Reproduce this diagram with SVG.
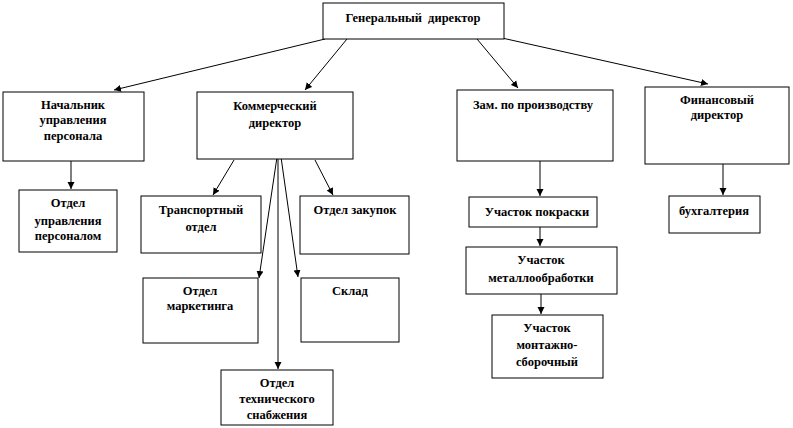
<svg xmlns="http://www.w3.org/2000/svg" width="793" height="428" viewBox="0 0 793 428">
<style>
.box{fill:#fff;stroke:#000;stroke-width:1}
.t{font-family:"Liberation Serif","Times New Roman",serif;font-weight:bold;font-size:12.5px;text-anchor:middle;fill:#000;white-space:pre}
.c{stroke:#000;stroke-width:1;fill:none;marker-end:url(#ah)}
</style>
<defs>
<marker id="ah" markerWidth="8" markerHeight="8" refX="7" refY="4" orient="auto" markerUnits="userSpaceOnUse">
<path d="M0,0.5 L7,4 L0,7.5 Z" fill="#000"/>
</marker>
</defs>
<rect width="793" height="428" fill="#fff"/>
<g id="connectors">
<line class="c" x1="325" y1="39" x2="114" y2="90"/>
<line class="c" x1="347" y1="39" x2="305" y2="90"/>
<line class="c" x1="477" y1="39" x2="518" y2="88"/>
<line class="c" x1="502" y1="38" x2="708" y2="84"/>
<line class="c" x1="71" y1="161" x2="71" y2="189"/>
<line class="c" x1="234" y1="160" x2="213" y2="195"/>
<line class="c" x1="315" y1="160" x2="333" y2="195"/>
<line class="c" x1="277" y1="157" x2="259" y2="278"/>
<line class="c" x1="281" y1="157" x2="298" y2="277"/>
<line class="c" x1="278" y1="157" x2="278" y2="369"/>
<line class="c" x1="540" y1="161" x2="540" y2="196"/>
<line class="c" x1="540" y1="227" x2="540" y2="246"/>
<line class="c" x1="541" y1="294" x2="541" y2="314"/>
<line class="c" x1="723" y1="164" x2="723" y2="195"/>
</g>
<g id="gen"><rect class="box" x="323" y="3" width="181" height="36"/><text class="t" x="413" y="22" xml:space="preserve">Генеральный  директор</text></g>
<g id="nach"><rect class="box" x="3" y="92" width="141" height="69"/><text class="t" x="73" y="109">Начальник</text><text class="t" x="73" y="124">управления</text><text class="t" x="73" y="140">персонала</text></g>
<g id="otd-upr"><rect class="box" x="19" y="190" width="98" height="62"/><text class="t" x="68" y="207">Отдел</text><text class="t" x="68" y="225">управления</text><text class="t" x="68" y="240">персоналом</text></g>
<g id="kom"><rect class="box" x="197" y="92" width="156" height="67"/><text class="t" x="275" y="110">Коммерческий</text><text class="t" x="275" y="127">директор</text></g>
<g id="trans"><rect class="box" x="141" y="196" width="120" height="57"/><text class="t" x="201" y="214">Транспортный</text><text class="t" x="201" y="231">отдел</text></g>
<g id="zak"><rect class="box" x="300" y="196" width="109" height="58"/><text class="t" x="355" y="214">Отдел закупок</text></g>
<g id="mark"><rect class="box" x="143" y="278" width="115" height="65"/><text class="t" x="200" y="295">Отдел</text><text class="t" x="200" y="310">маркетинга</text></g>
<g id="sklad"><rect class="box" x="301" y="278" width="98" height="64"/><text class="t" x="350" y="295">Склад</text></g>
<g id="tech"><rect class="box" x="221" y="370" width="112" height="55"/><text class="t" x="277" y="387">Отдел</text><text class="t" x="277" y="403">технического</text><text class="t" x="277" y="419">снабжения</text></g>
<g id="zam"><rect class="box" x="457" y="90" width="156" height="71"/><text class="t" x="533" y="109">Зам. по производству</text></g>
<g id="pokr"><rect class="box" x="469" y="197" width="128" height="30"/><text class="t" x="537" y="216">Участок покраски</text></g>
<g id="metal"><rect class="box" x="466" y="247" width="151" height="47"/><text class="t" x="541" y="264">Участок</text><text class="t" x="541" y="282">металлообработки</text></g>
<g id="mont"><rect class="box" x="492" y="315" width="111" height="63"/><text class="t" x="547" y="332">Участок</text><text class="t" x="547" y="349">монтажно-</text><text class="t" x="547" y="366">сборочный</text></g>
<g id="fin"><rect class="box" x="645" y="87" width="144" height="77"/><text class="t" x="717" y="104">Финансовый</text><text class="t" x="717" y="119">директор</text></g>
<g id="buh"><rect class="box" x="669" y="196" width="91" height="37"/><text class="t" x="714" y="215">бухгалтерия</text></g>
</svg>
